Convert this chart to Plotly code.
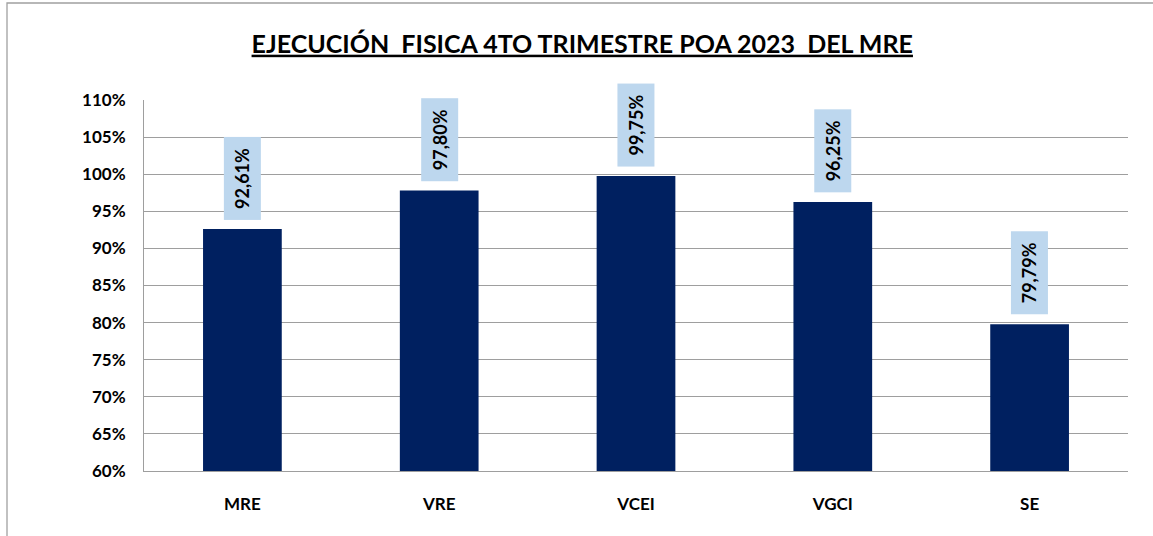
import plotly.graph_objects as go

categories = ["MRE", "VRE", "VCEI", "VGCI", "SE"]
values = [92.61, 97.80, 99.75, 96.25, 79.79]
tick_vals = [60, 65, 70, 75, 80, 85, 90, 95, 100, 105, 110]
tick_labels = [f"{t}%" for t in tick_vals]
title_text = "EJECUCIÓN&nbsp; FISICA 4TO TRIMESTRE POA 2023&nbsp; DEL MRE"

FONT = "Lato"

fig = go.Figure()
fig.add_trace(go.Bar(
    x=categories, y=values, base=0,
    marker=dict(color="#002060", line=dict(width=0)),
    width=0.40,
    hoverinfo="x+y",
))

for c, v in zip(categories, values):
    fig.add_annotation(
        x=c, y=v, xref="x", yref="y",
        text=f"{v:.2f}".replace(".", ",") + "%",
        textangle=-90,
        showarrow=False,
        yanchor="bottom", xanchor="center",
        yshift=9,
        bgcolor="#BDD7EE",
        width=80, height=34,
        font=dict(family=FONT, size=18, color="#000000", weight="bold"),
    )

# outer chart border
fig.add_shape(type="rect", xref="paper", yref="paper",
              x0=(7 - 144) / 984, x1=1.05, y0=-0.3, y1=(471 - 3) / 371,
              line=dict(color="#A0A0A0", width=1.3), layer="below")

fig.update_layout(
    width=1153, height=536,
    margin=dict(l=144, r=25, t=100, b=65),
    paper_bgcolor="white", plot_bgcolor="white",
    showlegend=False,
    bargap=0.6,
    title=dict(
        text=f"<u>{title_text}</u>",
        x=0.505, xanchor="center", y=0.918, yanchor="middle",
        font=dict(family=FONT, size=25, color="#000000", weight="bold"),
    ),
    font=dict(family=FONT, color="#000000"),
)
fig.update_yaxes(
    range=[60, 110], tickmode="array", tickvals=tick_vals, ticktext=tick_labels,
    showgrid=True, gridcolor="#9E9E9E", gridwidth=1,
    showline=True, linecolor="#9E9E9E", linewidth=1,
    zeroline=False, ticks="", ticklabelstandoff=14,
    tickfont=dict(family=FONT, size=17, color="#000000", weight="bold"),
)
fig.update_xaxes(
    showline=True, linecolor="#9E9E9E", linewidth=1,
    showgrid=False, ticks="", ticklabelstandoff=18,
    tickfont=dict(family=FONT, size=17, color="#000000", weight="bold"),
)

fig.write_html("out.html", config={"displayModeBar": False},
               post_script="document.body.style.margin='0';")
